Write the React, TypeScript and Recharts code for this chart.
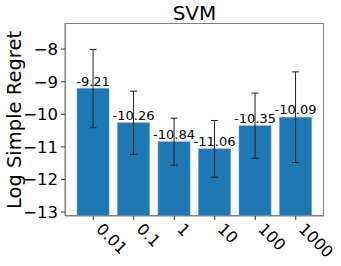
import { BarChart, Bar, XAxis, YAxis, ErrorBar, LabelList } from 'recharts';

const categories = ['0.01', '0.1', '1', '10', '100', '1000'];
const means = [-9.21, -10.26, -10.84, -11.06, -10.35, -10.09];
const errors = [1.2, 0.97, 0.72, 0.87, 1.0, 1.39];
const yTicks = [-13, -12, -11, -10, -9, -8];

const BASE = -13.12;
const TOP = -7.2;

const data = categories.map((c, i) => ({ name: c, value: means[i], err: errors[i] }));

const font = 'DejaVu Sans, sans-serif';
const spine = '#808080';

const XTick = (props: any) => {
  const { x, y, payload } = props;
  const tx = x + 2;
  const ty = y + 8;
  return (
    <text x={tx} y={ty} transform={`rotate(45, ${tx}, ${ty})`} textAnchor="start"
      fontFamily={font} fontSize={16} fill="#000">
      {payload.value}
    </text>
  );
};

export default function App() {
  return (
    <div style={{ position: 'absolute', left: 0, top: 0, width: 341, height: 266 }}>
      <div style={{ position: 'absolute', left: 65, width: 259, top: 1, textAlign: 'center',
        fontFamily: font, fontSize: 20, lineHeight: '24px', color: '#000' }}>SVM</div>
      <svg style={{ position: 'absolute', left: 0, top: 0 }} width={30} height={266}>
        <text x={21} y={120} transform="rotate(-90, 21, 120)" textAnchor="middle"
          fontFamily={font} fontSize={19.5} fill="#000">Log Simple Regret</text>
      </svg>
      <div style={{ position: 'absolute', left: 0, top: 0 }}>
        <BarChart width={341} height={266} data={data} barCategoryGap="10%"
          margin={{ top: 23, right: 17, bottom: 0, left: 0 }}>
          <XAxis dataKey="name" height={50} padding={{ left: 8, right: 8 }}
            tickSize={4} tickLine={{ stroke: '#333' }} axisLine={{ stroke: spine }}
            tick={<XTick />} interval={0} />
          <YAxis width={65} domain={[BASE, TOP]} ticks={yTicks} allowDataOverflow
            tickSize={4} tickMargin={3} tickLine={{ stroke: '#333' }} axisLine={{ stroke: spine }}
            tick={{ fontFamily: font, fontSize: 16.5, fill: '#000' }}
            tickFormatter={(v: number) => String(v).replace('-', '\u2212')} />
          <Bar dataKey={(d: any) => [BASE, d.value]} fill="#1f77b4" stroke="#5a9bd0" strokeWidth={0.6}
            isAnimationActive={false}>
            <ErrorBar dataKey="err" width={3.5} stroke="#222" strokeWidth={1} direction="y" />
            <LabelList dataKey="value" position="top" offset={3}
              formatter={(v: any) => Number(v).toFixed(2)}
              style={{ fontFamily: font, fontSize: 13, fill: '#000' }} />
          </Bar>
        </BarChart>
      </div>
      <div style={{ position: 'absolute', left: 65, top: 23, width: 259, height: 193,
        boxSizing: 'border-box', border: `1px solid ${spine}`, pointerEvents: 'none' }} />
    </div>
  );
}
